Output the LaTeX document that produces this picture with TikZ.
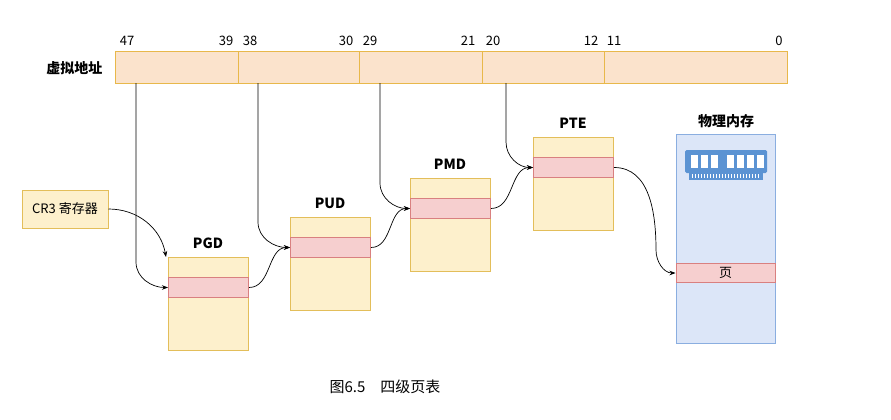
\documentclass[tikz,border=0pt]{standalone}
\usepackage{fontspec}
\setmainfont{Noto Sans CJK SC}
\usetikzlibrary{arrows.meta}
\begin{document}
\begin{tikzpicture}[x=1pt,y=-1pt,
 bar/.style={draw=barB,fill=barF,line width=1pt},
 tab/.style={draw=tabB,fill=tabF,line width=1pt},
 ent/.style={draw=entB,fill=entF,line width=1pt},
 lbl/.style={font=\bfseries\fontsize{14}{16}\selectfont},
 num/.style={font=\fontsize{13}{15}\selectfont},
 arr/.style={-{Stealth[length=6pt]},line width=0.7pt}]
\definecolor{barF}{HTML}{FBE3CC}\definecolor{barB}{HTML}{E8B84A}
\definecolor{tabF}{HTML}{FDF0CC}\definecolor{tabB}{HTML}{E3BE5A}
\definecolor{entF}{HTML}{F6CFCF}\definecolor{entB}{HTML}{D98080}
\definecolor{memF}{HTML}{DCE6F8}\definecolor{memB}{HTML}{8AAEE0}
\definecolor{ico}{HTML}{5B93D3}
\useasboundingbox (0,0) rectangle (891,420);
% address bar
\draw[bar] (115,52) rectangle (787,83);
\foreach \x in {238,359,482,604} \draw[barB,line width=1pt] (\x,52)--(\x,83);
\node[lbl,anchor=east] (va) at (106,68) {虚拟地址};
\foreach \x/\t in {127/47,226/39,250/38,346/30,370/29,468/21,493/20,591/12,614/11,779/0}
  \node[num] (n\t) at (\x,41) {\t};
\coordinate (s1) at (136,83);\coordinate (s2) at (258,83);
\coordinate (s3) at (380,83);\coordinate (s4) at (506,83);
% tables
\foreach \n/\x/\y in {PGD/168/257,PUD/290/217,PMD/410/178,PTE/533/137}{
  \draw[tab] (\x,\y) rectangle ++(80,93);
  \node[ent,minimum width=80pt,minimum height=20pt,inner sep=0,anchor=north west] (\n e) at (\x,\y+20) {};
  \node[lbl] (\n) at (\x+40,\y-14) {\n};
  \coordinate (\n tl) at (\x,\y);
}
% CR3
\node[draw=tabB,fill=tabF,line width=1pt,minimum width=86pt,minimum height=38pt,font=\fontsize{13}{15}\selectfont] (cr3) at (65,209) {CR3 寄存器};
% memory
\draw[draw=memB,fill=memF,line width=1pt] (676,134) rectangle (775,343);
\node[lbl] (mem) at (726,121) {物理内存};
\node[ent,minimum width=99pt,minimum height=19pt,inner sep=0,font=\fontsize{13}{15}\selectfont] (page) at (725.5,273) {页};
% ram icon
\fill[ico,rounded corners=1.5pt] (685,150) rectangle (767,173);
\foreach \x in {691,701,711,727,737,747,757} \fill[white] (\x,155) rectangle ++(7,13);
\fill[ico] (689,173) rectangle (763,180);
\foreach \x in {692,695,...,760} \fill[white] (\x,174) rectangle ++(1.2,4);
% arrows
\draw[arr] (s1) -- (136,262) to[out=-90,in=180] (PGDe.west);
\draw[arr] (cr3.east) to[out=0,in=100] ([xshift=-2pt]PGDtl);
\draw[arr] (PGDe.east) to[out=0,in=180] (PUDe.west);
\draw[arr] (s2) -- (258,222) to[out=-90,in=180] (PUDe.west);
\draw[arr] (PUDe.east) to[out=0,in=180] (PMDe.west);
\draw[arr] (s3) -- (380,183) to[out=-90,in=180] (PMDe.west);
\draw[arr] (PMDe.east) to[out=0,in=180] (PTEe.west);
\draw[arr] (s4) -- (506,142) to[out=-90,in=180] (PTEe.west);
\draw[arr] (PTEe.east) to[out=0,in=90] (656,250) to[out=-90,in=180] (page.west);
\node[font=\fontsize{15}{17}\selectfont] (cap) at (385,387) {图6.5\quad 四级页表};
\end{tikzpicture}
\end{document}
